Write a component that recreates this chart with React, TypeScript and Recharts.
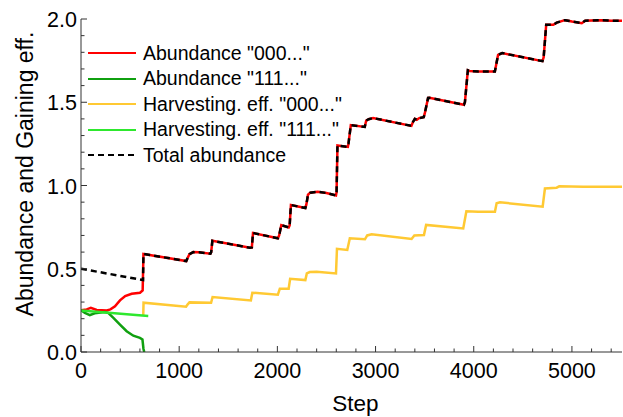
import React from "react";
import { LineChart, Line, XAxis, YAxis, Legend } from "recharts";

const FONT = "'Liberation Sans', Arial, Helvetica, sans-serif";
const AXIS = "#333";

// Abundance "000..." before the jump
const abundance000EarlySteps = [0, 58, 100, 160, 262, 300, 346, 397, 450, 516, 601, 628];
const abundance000EarlyValues = [0.25, 0.256, 0.265, 0.252, 0.25, 0.256, 0.274, 0.31, 0.336, 0.35, 0.356, 0.37];

// Total abundance before the jump
const totalEarlySteps = [0, 632];
const totalEarlyValues = [0.5, 0.432];

// Common path of total abundance / Abundance "000..." after the jump
const lateSteps = [636, 1072, 1088, 1105, 1144, 1200, 1318, 1326, 1338, 1721, 1740, 1752, 2005, 2018, 2040, 2115, 2125, 2138, 2285, 2295, 2312, 2335, 2410, 2500, 2597, 2603, 2612, 2718, 2724, 2748, 2890, 2905, 2930, 2975, 3365, 3380, 3400, 3420, 3445, 3490, 3500, 3535, 3548, 3900, 3910, 3940, 3955, 4050, 4215, 4230, 4248, 4290, 4700, 4712, 4738, 4810, 4845, 4930, 5000, 5100, 5135, 5285, 5400, 5510];
const lateValues = [0.589, 0.546, 0.568, 0.588, 0.6, 0.599, 0.59, 0.6, 0.668, 0.626, 0.628, 0.715, 0.683, 0.7, 0.762, 0.748, 0.76, 0.883, 0.865, 0.885, 0.945, 0.957, 0.962, 0.955, 0.94, 0.96, 1.24, 1.232, 1.25, 1.363, 1.352, 1.39, 1.398, 1.405, 1.358, 1.38, 1.4, 1.395, 1.405, 1.41, 1.43, 1.526, 1.527, 1.485, 1.5, 1.692, 1.688, 1.684, 1.684, 1.73, 1.785, 1.795, 1.747, 1.77, 1.966, 1.965, 1.978, 1.993, 1.985, 1.975, 1.99, 1.993, 1.99, 1.99];

// Abundance "111..."
const abundance111Steps = [0, 40, 90, 140, 240, 280, 330, 397, 465, 533, 600, 626, 636, 644];
const abundance111Values = [0.25, 0.235, 0.222, 0.232, 0.24, 0.234, 0.205, 0.165, 0.125, 0.098, 0.085, 0.075, 0.02, 0];

// Harvesting eff. "000..."
const harvest000Steps = [634, 637, 1070, 1085, 1105, 1325, 1340, 1730, 1745, 2005, 2025, 2115, 2130, 2285, 2300, 2330, 2400, 2597, 2607, 2712, 2738, 2892, 2915, 2960, 3367, 3395, 3493, 3515, 3893, 3925, 4046, 4216, 4233, 4267, 4702, 4725, 4844, 4871, 5115, 5510];
const harvest000Values = [0.222, 0.296, 0.272, 0.285, 0.298, 0.296, 0.33, 0.31, 0.356, 0.344, 0.38, 0.38, 0.44, 0.432, 0.472, 0.48, 0.482, 0.472, 0.62, 0.613, 0.683, 0.677, 0.7, 0.707, 0.679, 0.7, 0.703, 0.763, 0.742, 0.845, 0.843, 0.843, 0.893, 0.899, 0.873, 0.982, 0.987, 0.995, 0.993, 0.993];

// Harvesting eff. "111..."
const harvest111Steps = [0, 685];
const harvest111Values = [0.25, 0.216];

const xTicks = [0, 200, 400, 600, 800, 1000, 1200, 1400, 1600, 1800, 2000, 2200, 2400, 2600, 2800, 3000, 3200, 3400, 3600, 3800, 4000, 4200, 4400, 4600, 4800, 5000, 5200, 5400];
const xMajor = [0, 1000, 2000, 3000, 4000, 5000];
const yTicks = [0, 0.1, 0.2, 0.3, 0.4, 0.5, 0.6, 0.7, 0.8, 0.9, 1.0, 1.1, 1.2, 1.3, 1.4, 1.5, 1.6, 1.7, 1.8, 1.9, 2.0];
const yMajor = ["0.0", "0.5", "1.0", "1.5", "2.0"];

const toPoints = (steps: number[], values: number[]) =>
  steps.map((s, i) => ({ step: s, v: values[i] }));

const abundance000Data = toPoints(
  [...abundance000EarlySteps, ...lateSteps],
  [...abundance000EarlyValues, ...lateValues]
);
const totalData = toPoints([...totalEarlySteps, ...lateSteps], [...totalEarlyValues, ...lateValues]);
const abundance111Data = toPoints(abundance111Steps, abundance111Values);
const harvest000Data = toPoints(harvest000Steps, harvest000Values);
const harvest111Data = toPoints(harvest111Steps, harvest111Values);

const XTick = (props: any) => {
  const { x, y, payload } = props;
  const v = payload.value;
  const major = xMajor.includes(v);
  return (
    <g>
      <line x1={x} x2={x} y1={y} y2={y - (major ? 6 : 3.5)} stroke={AXIS} strokeWidth={1} />
      {major && (
        <text x={x} y={y + 26} textAnchor="middle" fontFamily={FONT} fontSize={21.5} fill="#000">
          {v}
        </text>
      )}
    </g>
  );
};

const YTick = (props: any) => {
  const { x, y, payload } = props;
  const label = Number(payload.value).toFixed(1);
  const major = yMajor.includes(label);
  return (
    <g>
      <line x1={x} x2={x + (major ? 6 : 3.5)} y1={y} y2={y} stroke={AXIS} strokeWidth={1} />
      {major && (
        <text x={x - 4} y={y + 8} textAnchor="end" fontFamily={FONT} fontSize={21.5} fill="#000">
          {label}
        </text>
      )}
    </g>
  );
};

const renderLegend = (props: any) => {
  const items: any[] = props.payload || [];
  return (
    <div style={{ position: "relative", height: 0, width: 0 }}>
      <div style={{ position: "absolute", left: 88, top: 40.5 }}>
        {items.map((it: any, i: number) => (
          <div
            key={i}
            style={{ display: "flex", alignItems: "center", height: 25.5, whiteSpace: "nowrap" }}
          >
            <svg width={48} height={6} style={{ marginRight: 7, display: "block" }}>
              <line
                x1={0}
                x2={48}
                y1={3}
                y2={3}
                stroke={it.color}
                strokeWidth={2}
                strokeDasharray={it.payload && it.payload.strokeDasharray ? it.payload.strokeDasharray : undefined}
              />
            </svg>
            <span style={{ fontFamily: FONT, fontSize: 19.5, color: "#000", lineHeight: 1 }}>{it.value}</span>
          </div>
        ))}
      </div>
    </div>
  );
};

export default function App() {
  return (
    <div style={{ position: "absolute", left: 0, top: 0, width: 623, height: 417, background: "#fff" }}>
      <LineChart width={623} height={417} margin={{ top: 19, right: 1, bottom: 64, left: 80 }}>
        <XAxis
          type="number"
          dataKey="step"
          domain={[0, 5510]}
          ticks={xTicks}
          interval={0}
          allowDataOverflow
          tick={(p: any) => <XTick {...p} />}
          tickLine={false}
          tickSize={0}
          tickMargin={0}
          height={1}
          axisLine={{ stroke: AXIS, strokeWidth: 1 }}
          label={(p: any) => {
            const vb = p.viewBox || { x: 81, y: 352, width: 541 };
            return (
              <text x={vb.x + vb.width / 2 + 4} y={vb.y + 59} textAnchor="middle" fontFamily={FONT} fontSize={22.5} fill="#000">
                Step
              </text>
            );
          }}
        />
        <YAxis
          type="number"
          domain={[0, 2]}
          ticks={yTicks}
          interval={0}
          allowDataOverflow
          tick={(p: any) => <YTick {...p} />}
          tickLine={false}
          tickSize={0}
          tickMargin={0}
          width={1}
          axisLine={{ stroke: AXIS, strokeWidth: 1 }}
          label={(p: any) => {
            const vb = p.viewBox || { x: 81, y: 19, height: 333 };
            const cx = 33;
            const cy = vb.y + vb.height / 2 - 11.5;
            return (
              <text
                x={cx}
                y={cy}
                transform={`rotate(-90 ${cx} ${cy})`}
                textAnchor="middle"
                fontFamily={FONT}
                fontSize={23}
                fill="#000"
              >
                Abundance and Gaining eff.
              </text>
            );
          }}
        />
        <Legend verticalAlign="top" content={renderLegend} wrapperStyle={{ left: 0, top: 0, height: 0 }} />
        <Line data={abundance000Data} dataKey="v" name={'Abundance "000..."'} type="linear" stroke="#FF0000" strokeWidth={2.5} dot={false} activeDot={false} isAnimationActive={false} />
        <Line data={abundance111Data} dataKey="v" name={'Abundance "111..."'} type="linear" stroke="#10A010" strokeWidth={2.5} dot={false} activeDot={false} isAnimationActive={false} />
        <Line data={harvest000Data} dataKey="v" name={'Harvesting. eff. "000..."'} type="linear" stroke="#FFC933" strokeWidth={2.5} dot={false} activeDot={false} isAnimationActive={false} />
        <Line data={harvest111Data} dataKey="v" name={'Harvesting. eff. "111..."'} type="linear" stroke="#2EE82E" strokeWidth={2.5} dot={false} activeDot={false} isAnimationActive={false} />
        <Line data={totalData} dataKey="v" name="Total abundance" type="linear" stroke="#000000" strokeWidth={2.5} strokeDasharray="6 4" dot={false} activeDot={false} isAnimationActive={false} />
      </LineChart>
    </div>
  );
}
